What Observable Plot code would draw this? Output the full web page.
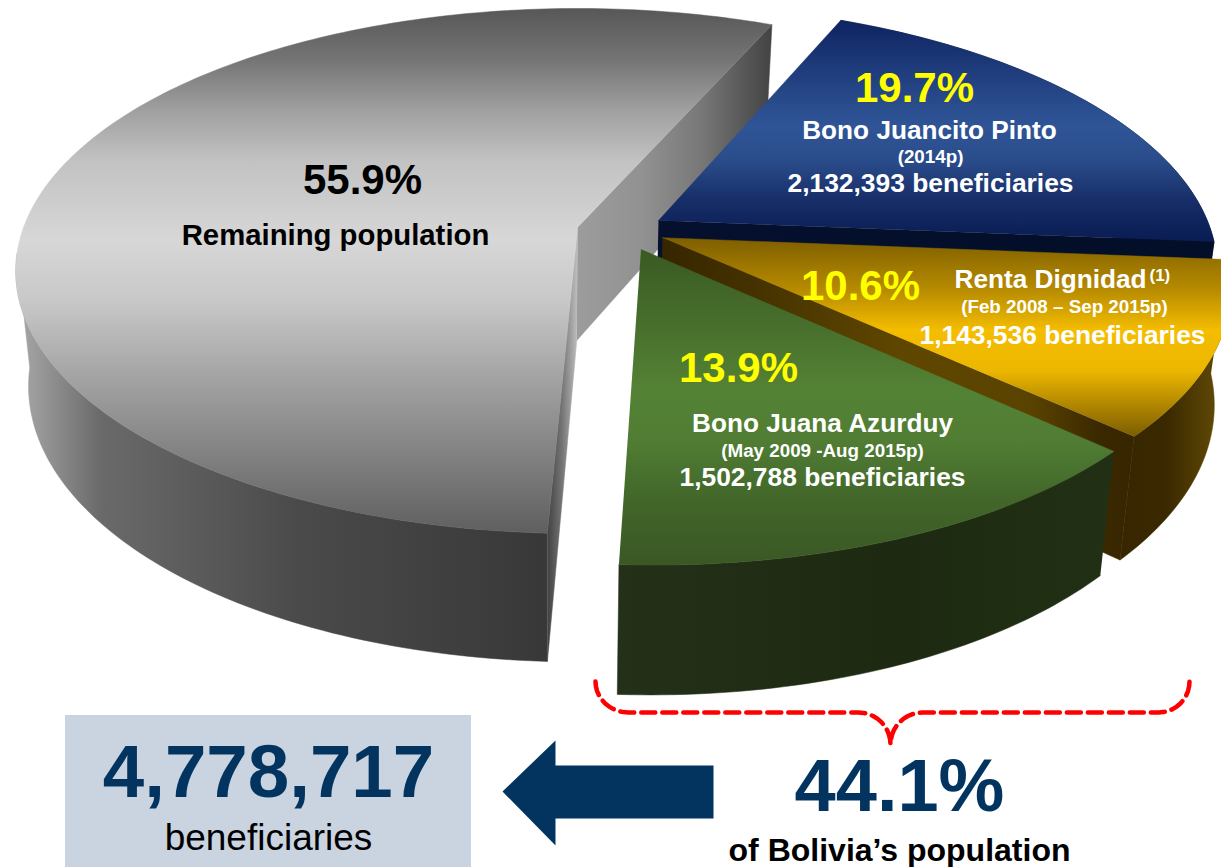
<!DOCTYPE html>
<html><head><meta charset="utf-8">
<style>html,body{margin:0;padding:0;background:#fff;overflow:hidden}svg{display:block}</style>
<script src="https://cdn.jsdelivr.net/npm/d3@7"></script>
<script src="https://cdn.jsdelivr.net/npm/@observablehq/plot@0.6"></script>
</head><body><div id="chart"></div>
<script>
// ---- data ----
const categories = ["Remaining population","Bono Juancito Pinto","Renta Dignidad","Bono Juana Azurduy"];
const shares = [55.9,19.7,10.6,13.9];
const shareLabels = ["55.9%","19.7%","10.6%","13.9%"];
const periods = ["","(2014p)","(Feb 2008 – Sep 2015p)","(May 2009 -Aug 2015p)"];
const beneficiaries = ["","2,132,393 beneficiaries","1,143,536 beneficiaries","1,502,788 beneficiaries"];
const totalShare = "44.1%";
const totalShareCaption = "of Bolivia’s population";
const totalCount = "4,778,717";
const totalCountCaption = "beneficiaries";

// ---- perspective model of the exploded pie ----
const W = 1221, H = 867, FONT = "Arial, 'Liberation Sans', sans-serif";
const pie = {ox:577, oy:227, r:554, ry:255.3, k:.1657, depth:113, vx:548, shrink:.976, start:182.6};
const explode = [[0,0],[.1469,-.0273],[.1523,.04],[.113,.0847]];
const radiusScale = [1,.995,1,1];
const project = (u,v) => {const s=1/(1-pie.k*v); return {x:pie.ox+pie.r*u*s, y:pie.oy+pie.ry*v*s, s};};
const drop = p => ({x:pie.vx+(p.x-pie.vx)*pie.shrink, y:p.y+pie.depth*Math.pow(p.s,.7), a:p.a, s:p.s});
const angles = []; { let a=pie.start; for (const s of shares){angles.push([a,a+s*3.6]); a+=s*3.6;} }
const rad = d => d*Math.PI/180;
const wedge = i => {
  const [du,dv]=explode[i], [a0,a1]=angles[i], arc=[], q=radiusScale[i];
  const n=Math.ceil(a1-a0);
  for(let j=0;j<=n;j++){const a=a0+(a1-a0)*j/n, t=rad(a); arc.push({...project(du+q*Math.sin(t),dv-q*Math.cos(t)),a});}
  return {apex:project(du,dv),arc};
};
const W0=wedge(0),W1=wedge(1),W2=wedge(2),W3=wedge(3);
const topFace = w => [w.apex,...w.arc];
// the outer wall is cut at the silhouette angle so its side edge is a straight line
const outerFace = (w,lo=-Infinity,hi=Infinity) => {const a=w.arc.filter(p=>p.a>=lo&&p.a<=hi); return [...a,...a.map(drop).reverse()];};
const radialFace = (w,end) => {const c=end?w.arc[w.arc.length-1]:w.arc[0]; return [w.apex,c,drop(c),drop(w.apex)];};

// ---- gradients (stop position in px along the axis, colour) ----
const grads = {
 gTop:["y",[[8,"#575757"],[60,"#757575"],[110,"#a0a0a0"],[160,"#c2c2c2"],[240,"#d7d7d7"],[300,"#c8c8c8"],[380,"#a2a2a2"],[450,"#838383"],[533,"#5f5f5f"]]],
 gOut:["x",[[15,"#aaaaaa"],[50,"#909090"],[100,"#6a6a6a"],[300,"#4a4a4a"],[548,"#383838"]]],
 gRad:["x",[[578,"#9c9c9c"],[640,"#929292"],[700,"#787878"],[770,"#444444"]]],
 gSli:["x",[[548,"#454545"],[562,"#777777"],[578,"#c4c4c4"]]],
 bTop:["y",[[18,"#0e2360"],[70,"#1f3c7c"],[125,"#2f5597"],[160,"#2a4c8a"],[200,"#172e68"],[238,"#0a1d54"]]],
 bRad:["x",[[658,"#04102e"],[1213,"#030e28"]]],
 oTop:["y",[[238,"#7f5f00"],[290,"#b88c00"],[330,"#f5bd00"],[370,"#ecb700"],[405,"#b08600"],[434,"#7f6000"]]],
 oOut:["x",[[1100,"#362500"],[1165,"#3a2800"],[1221,"#634c06"]]],
 oRad:["x",[[662,"#362500"],[900,"#5f4700"],[1030,"#5a4300"],[1100,"#3a2800"],[1134,"#362500"]]],
 gnTop:["y",[[250,"#3a5a23"],[390,"#548235"],[440,"#507d33"],[500,"#42662a"],[567,"#3a5724"]]],
 gnOut:["x",[[619,"#243118"],[900,"#1d2a11"],[1100,"#213015"]]]
};
const defs = () => {
  const g = d3.create("svg:g"), d = g.append("defs");
  for (const [id,[axis,stops]] of Object.entries(grads)) {
    const lo=stops[0][0], hi=stops[stops.length-1][0];
    const lg=d.append("linearGradient").attr("id",id).attr("gradientUnits","userSpaceOnUse")
      .attr("x1",axis==="x"?lo:0).attr("x2",axis==="x"?hi:0).attr("y1",axis==="y"?lo:0).attr("y2",axis==="y"?hi:0);
    for (const [p,c] of stops) lg.append("stop").attr("offset",(p-lo)/(hi-lo)).attr("stop-color",c);
  }
  return g.node();
};
const face = (pts,id) => Plot.line(pts,{x:"x",y:"y",fill:`url(#${id})`,stroke:`url(#${id})`,strokeWidth:.5});

// ---- brace under the three programmes ----
const corner = (cx,cy,rx,ry,a0,a1) => d3.range(0,1.001,.1).map(t=>{const a=rad(a0+(a1-a0)*t); return {x:cx+rx*Math.cos(a),y:cy+ry*Math.sin(a)};});
const brace = [
 ...corner(628,681,33,31,180,90), {x:858,y:712},
 ...corner(858,744,32,32,-90,0),
 ...corner(922,744,32,32,180,270), {x:1158,y:712},
 ...corner(1158,681,31,31,90,0)
];
const arrow = [{x:502,y:791},{x:555,y:740},{x:555,y:765},{x:713,y:765},{x:713,y:818},{x:555,y:818},{x:555,y:845}];

// ---- label tables ----
const pctRows = [
 {t:shareLabels[0],x:362,y:180,f:"#000"},{t:shareLabels[1],x:914,y:88,f:"#ffff00"},
 {t:shareLabels[2],x:860,y:286,f:"#ffff00"},{t:shareLabels[3],x:738,y:368,f:"#ffff00"}];
const nameRows = [{t:categories[1],x:929,y:130},{t:categories[2],x:1050,y:279},{t:categories[3],x:822,y:423}];
const periodRows = [{t:periods[1],x:930,y:156},{t:periods[2],x:1064,y:306},{t:periods[3],x:822,y:450}];
const benefRows = [{t:beneficiaries[1],x:930,y:183},{t:beneficiaries[2],x:1062,y:335},{t:beneficiaries[3],x:822,y:477}];
const txt = (rows,o) => Plot.text(rows,{x:"x",y:"y",text:"t",fontFamily:FONT,textAnchor:"middle",lineAnchor:"middle",...o});
const one = (t,x,y) => [{t,x,y}];

const chart = Plot.plot({
  width:W,height:H,margin:0,
  x:{domain:[0,W],range:[0,W],axis:null},
  y:{domain:[0,H],range:[0,H],axis:null},
  style:{background:"#fff"},
  marks:[
    defs,
    face(outerFace(W0,-Infinity,265),"gOut"),face(radialFace(W0,false),"gSli"),face(radialFace(W0,true),"gRad"),face(topFace(W0),"gTop"),
    face(outerFace(W1),"bRad"),face(radialFace(W1,true),"bRad"),face(topFace(W1),"bTop"),
    face(outerFace(W2,100),"oOut"),face(radialFace(W2,true),"oRad"),face(topFace(W2),"oTop"),
    face(outerFace(W3),"gnOut"),face(topFace(W3),"gnTop"),
    txt(pctRows,{fill:d=>d.f,fontSize:42,fontWeight:"bold"}),
    txt(one(categories[0],335,235),{fill:"#000",fontSize:29.3,fontWeight:"bold"}),
    txt(nameRows,{fill:"#fff",fontSize:26.2,fontWeight:"bold"}),
    txt(one("(1)",1149,275),{fill:"#fff",fontSize:17,fontWeight:"bold",textAnchor:"start"}),
    txt(periodRows,{fill:"#fff",fontSize:18.8,fontWeight:"bold"}),
    txt(benefRows,{fill:"#fff",fontSize:26.4,fontWeight:"bold"}),
    Plot.line(brace,{x:"x",y:"y",stroke:"#ff0000",strokeWidth:4.5,strokeDasharray:"14,7"}),
    Plot.rect(one("",0,0),{x1:()=>65,x2:()=>471,y1:()=>715,y2:()=>867,fill:"#c9d4e0"}),
    Plot.line(arrow,{x:"x",y:"y",fill:"#03345f",stroke:"none"}),
    txt(one(totalCount,268,773),{fill:"#03345f",fontSize:74.5,fontWeight:"bold"}),
    txt(one(totalCountCaption,268,838),{fill:"#000",fontSize:37}),
    txt(one(totalShare,899,787),{fill:"#03345f",fontSize:74,fontWeight:"bold"}),
    txt(one(totalShareCaption,899,850),{fill:"#000",fontSize:32,fontWeight:"bold"})
  ]
});
document.getElementById("chart").append(chart);
</script></body></html>
